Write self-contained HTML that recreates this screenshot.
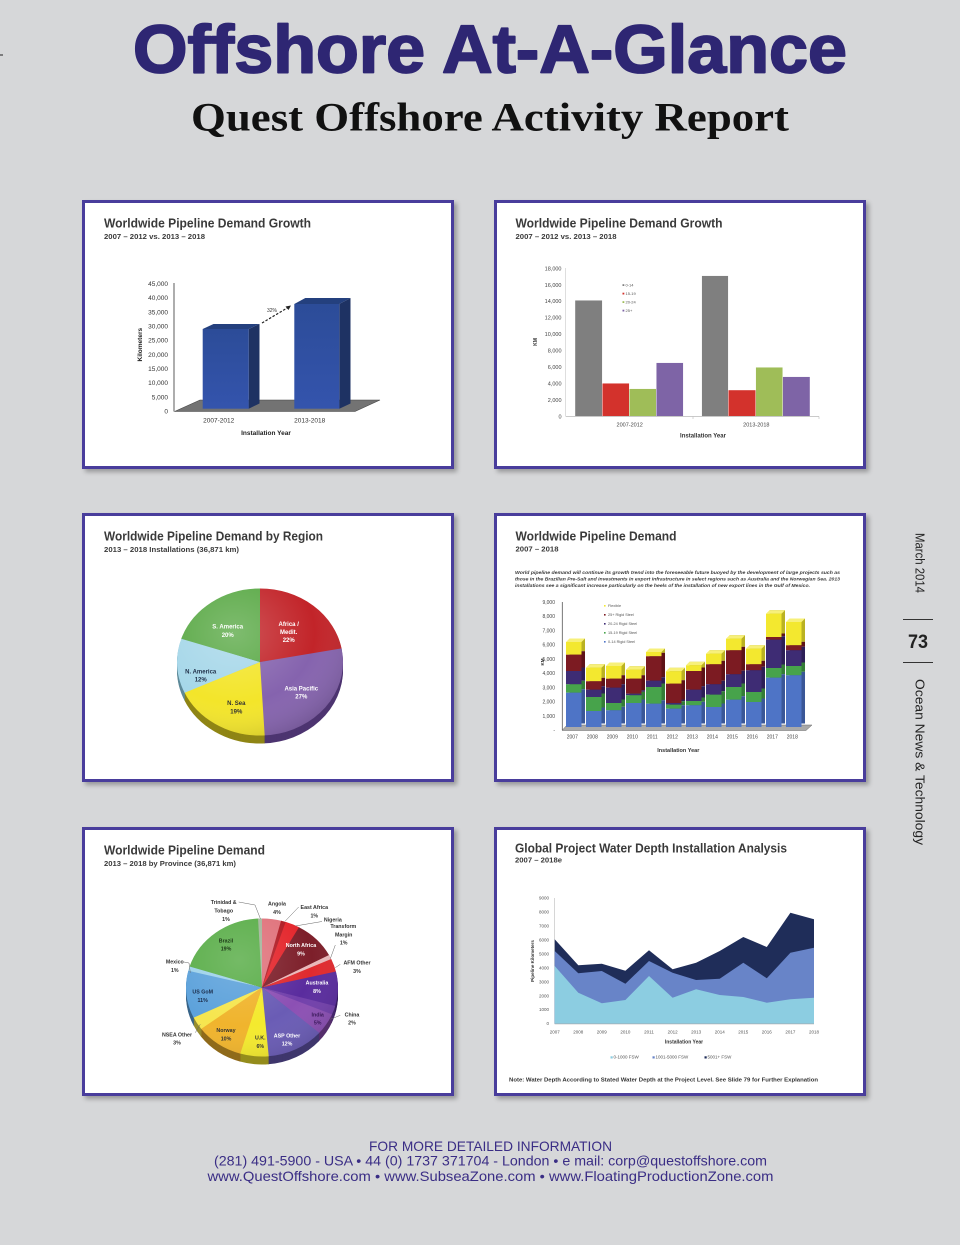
<!DOCTYPE html>
<html><head><meta charset="utf-8"><style>
html,body{margin:0;padding:0;width:960px;height:1245px;overflow:hidden;background:#d6d7d9}
svg{display:block}
text{font-family:"Liberation Sans",Arial,sans-serif}
</style></head><body>
<svg xmlns="http://www.w3.org/2000/svg" xmlns:xlink="http://www.w3.org/1999/xlink" width="960" height="1245" viewBox="0 0 960 1245">
<defs>
<filter id="sh" x="-5%" y="-5%" width="115%" height="115%"><feGaussianBlur in="SourceAlpha" stdDeviation="2.5"/><feOffset dx="3" dy="3"/><feComponentTransfer><feFuncA type="linear" slope="0.3"/></feComponentTransfer><feMerge><feMergeNode/><feMergeNode in="SourceGraphic"/></feMerge></filter>
<filter id="dk"><feColorMatrix type="matrix" values="0.55 0 0 0 0 0 0.55 0 0 0 0 0 0.55 0 0 0 0 0 1 0"/></filter>
<linearGradient id="bf" x1="0" y1="0" x2="0" y2="1"><stop offset="0" stop-color="#2c4c98"/><stop offset="1" stop-color="#3454ad"/></linearGradient>
<radialGradient id="shine" cx="0.35" cy="0.3" r="0.8"><stop offset="0" stop-color="#fff" stop-opacity="0.22"/><stop offset="0.6" stop-color="#fff" stop-opacity="0"/><stop offset="1" stop-color="#000" stop-opacity="0.18"/></radialGradient>

<g id="pie1d" transform="translate(260,662) scale(1.66,1.47) rotate(-90)" fill="none" stroke-width="50">
<circle r="25" stroke="#7a151b" stroke-dasharray="34.9 200" stroke-dashoffset="0"/>
<circle r="25" stroke="#4d3470" stroke-dasharray="42.7 200" stroke-dashoffset="-34.56"/>
<circle r="25" stroke="#8f8515" stroke-dasharray="30.1 200" stroke-dashoffset="-76.97"/>
<circle r="25" stroke="#5e8a99" stroke-dasharray="19.1 200" stroke-dashoffset="-106.81"/>
<circle r="25" stroke="#2f6a25" stroke-dasharray="31.42 200" stroke-dashoffset="-125.66"/>
</g>

<g id="pie2d" transform="translate(262,987.5) scale(1.52,1.38) rotate(-90)" fill="none" stroke-width="50">
<circle r="25" stroke="#8a4148" stroke-dasharray="6.6 200" stroke-dashoffset="0"/>
<circle r="25" stroke="#6a1015" stroke-dasharray="1.8 200" stroke-dashoffset="-6.35"/>
<circle r="25" stroke="#8a1519" stroke-dasharray="5 200" stroke-dashoffset="-7.93"/>
<circle r="25" stroke="#4a1218" stroke-dasharray="14.5 200" stroke-dashoffset="-12.69"/>
<circle r="25" stroke="#8a6a6b" stroke-dasharray="1.8 200" stroke-dashoffset="-26.97"/>
<circle r="25" stroke="#8a1a1c" stroke-dasharray="5 200" stroke-dashoffset="-28.56"/>
<circle r="25" stroke="#351a5e" stroke-dasharray="12.9 200" stroke-dashoffset="-33.32"/>
<circle r="25" stroke="#43246a" stroke-dasharray="3.4 200" stroke-dashoffset="-46.01"/>
<circle r="25" stroke="#552e6c" stroke-dasharray="8.2 200" stroke-dashoffset="-49.19"/>
<circle r="25" stroke="#3e366c" stroke-dasharray="19.3 200" stroke-dashoffset="-57.12"/>
<circle r="25" stroke="#948c1c" stroke-dasharray="9.8 200" stroke-dashoffset="-76.16"/>
<circle r="25" stroke="#8f6a1b" stroke-dasharray="16.1 200" stroke-dashoffset="-85.68"/>
<circle r="25" stroke="#968c2e" stroke-dasharray="5 200" stroke-dashoffset="-101.55"/>
<circle r="25" stroke="#386488" stroke-dasharray="17.7 200" stroke-dashoffset="-106.31"/>
<circle r="25" stroke="#5c8090" stroke-dasharray="1.8 200" stroke-dashoffset="-123.76"/>
<circle r="25" stroke="#366a2d" stroke-dasharray="30.4 200" stroke-dashoffset="-125.35"/>
<circle r="25" stroke="#65705f" stroke-dasharray="1.59 200" stroke-dashoffset="-155.49"/>
</g>

<g id="bars">
<g fill="#f3e82f">
<rect x="566" y="642" width="15.5" height="12.7"/><rect x="586" y="667.7" width="15.5" height="13.6"/><rect x="606" y="666" width="15.5" height="12.7"/><rect x="626" y="669.7" width="15.5" height="9"/><rect x="646" y="652" width="15.5" height="4.3"/><rect x="666" y="671.3" width="15.5" height="12.4"/><rect x="686" y="665.3" width="15.5" height="5.7"/><rect x="706" y="653.7" width="15.5" height="10.6"/><rect x="726" y="638.7" width="15.5" height="11.6"/><rect x="746" y="648.7" width="15.5" height="15.6"/><rect x="766" y="613.7" width="15.5" height="23.3"/><rect x="786" y="622" width="15.5" height="23.3"/>
</g>
<g fill="#7c1b22">
<rect x="566" y="654.7" width="15.5" height="16.3"/><rect x="586" y="681.3" width="15.5" height="8.4"/><rect x="606" y="678.7" width="15.5" height="9"/><rect x="626" y="678.7" width="15.5" height="15"/><rect x="646" y="656.3" width="15.5" height="24.4"/><rect x="666" y="683.7" width="15.5" height="19.3"/><rect x="686" y="671" width="15.5" height="18.7"/><rect x="706" y="664.3" width="15.5" height="20"/><rect x="726" y="650.3" width="15.5" height="24"/><rect x="746" y="664.3" width="15.5" height="6"/><rect x="766" y="637" width="15.5" height="2.7"/><rect x="786" y="645.3" width="15.5" height="5"/>
</g>
<g fill="#3e2c74">
<rect x="566" y="671" width="15.5" height="13.3"/><rect x="586" y="689.7" width="15.5" height="7.3"/><rect x="606" y="687.7" width="15.5" height="15.3"/><rect x="626" y="693.7" width="15.5" height="1.6"/><rect x="646" y="680.7" width="15.5" height="6.3"/><rect x="666" y="703" width="15.5" height="1.7"/><rect x="686" y="689.7" width="15.5" height="11.3"/><rect x="706" y="684.3" width="15.5" height="10.4"/><rect x="726" y="674.3" width="15.5" height="12.7"/><rect x="746" y="670.3" width="15.5" height="21.7"/><rect x="766" y="639.7" width="15.5" height="28.3"/><rect x="786" y="650.3" width="15.5" height="15.7"/>
</g>
<g fill="#47a34b">
<rect x="566" y="684.3" width="15.5" height="8.4"/><rect x="586" y="697" width="15.5" height="14"/><rect x="606" y="703" width="15.5" height="7.3"/><rect x="626" y="695.3" width="15.5" height="7.7"/><rect x="646" y="687" width="15.5" height="16.7"/><rect x="666" y="704.7" width="15.5" height="4"/><rect x="686" y="701" width="15.5" height="4.3"/><rect x="706" y="694.7" width="15.5" height="12.3"/><rect x="726" y="687" width="15.5" height="12.7"/><rect x="746" y="692" width="15.5" height="10"/><rect x="766" y="668" width="15.5" height="9.7"/><rect x="786" y="666" width="15.5" height="9.3"/>
</g>
<g fill="#4e74c6">
<rect x="566" y="692.7" width="15.5" height="34.3"/><rect x="586" y="711" width="15.5" height="16"/><rect x="606" y="710.3" width="15.5" height="16.7"/><rect x="626" y="703" width="15.5" height="24"/><rect x="646" y="703.7" width="15.5" height="23.3"/><rect x="666" y="708.7" width="15.5" height="18.3"/><rect x="686" y="705.3" width="15.5" height="21.7"/><rect x="706" y="707" width="15.5" height="20"/><rect x="726" y="699.7" width="15.5" height="27.3"/><rect x="746" y="702" width="15.5" height="25"/><rect x="766" y="677.7" width="15.5" height="49.3"/><rect x="786" y="675.3" width="15.5" height="51.7"/>
</g>
</g>
</defs>

<!-- header -->
<line x1="0" y1="55" x2="3" y2="55" stroke="#222" stroke-width="1"/>
<text x="133" y="72.5" font-size="68" font-weight="bold" fill="#2e2673" stroke="#2e2673" stroke-width="1.8" stroke-linejoin="round" textLength="714" lengthAdjust="spacingAndGlyphs">Offshore At-A-Glance</text>
<text x="191" y="130.5" font-size="40" font-weight="bold" fill="#111" textLength="598" lengthAdjust="spacingAndGlyphs" style="font-family:'Liberation Serif',serif">Quest Offshore Activity Report</text>

<!-- panels -->
<g filter="url(#sh)" fill="#fff" stroke="#4a3c9c" stroke-width="3">
<rect x="83.5" y="201.5" width="369" height="266"/>
<rect x="495.5" y="201.5" width="369" height="266"/>
<rect x="83.5" y="514.5" width="369" height="266"/>
<rect x="495.5" y="514.5" width="369" height="266"/>
<rect x="83.5" y="828.5" width="369" height="266"/>
<rect x="495.5" y="828.5" width="369" height="266"/>
</g>

<!-- titles -->
<g font-weight="bold" fill="#3a3a3a">
<text x="104" y="227.5" font-size="12.5" textLength="207" lengthAdjust="spacingAndGlyphs">Worldwide Pipeline Demand Growth</text>
<text x="104" y="239" font-size="7.5" textLength="101" lengthAdjust="spacingAndGlyphs">2007 – 2012 vs. 2013 – 2018</text>
<text x="515.5" y="227.5" font-size="12.5" textLength="207" lengthAdjust="spacingAndGlyphs">Worldwide Pipeline Demand Growth</text>
<text x="515.5" y="239" font-size="7.5" textLength="101" lengthAdjust="spacingAndGlyphs">2007 – 2012 vs. 2013 – 2018</text>
<text x="104" y="540.5" font-size="12.5" textLength="219" lengthAdjust="spacingAndGlyphs">Worldwide Pipeline Demand by Region</text>
<text x="104" y="552" font-size="7.5" textLength="135" lengthAdjust="spacingAndGlyphs">2013 – 2018  Installations (36,871 km)</text>
<text x="515.5" y="540.5" font-size="12.5" textLength="161" lengthAdjust="spacingAndGlyphs">Worldwide Pipeline Demand</text>
<text x="515.5" y="551.5" font-size="7.5" textLength="43" lengthAdjust="spacingAndGlyphs">2007 – 2018</text>
<text x="104" y="854.5" font-size="12.5" textLength="161" lengthAdjust="spacingAndGlyphs">Worldwide Pipeline Demand</text>
<text x="104" y="866" font-size="7.5" textLength="132" lengthAdjust="spacingAndGlyphs">2013 – 2018 by Province (36,871 km)</text>
<text x="515" y="852.5" font-size="12.5" textLength="272" lengthAdjust="spacingAndGlyphs">Global Project Water Depth Installation Analysis</text>
<text x="515" y="862.5" font-size="7.5" textLength="47" lengthAdjust="spacingAndGlyphs">2007 – 2018e</text>
</g>

<!-- PANEL 1 -->
<g font-size="6.5" fill="#333" text-anchor="end">
<text x="168" y="413.6">0</text><text x="168" y="399.4">5,000</text><text x="168" y="385.2">10,000</text><text x="168" y="371.1">15,000</text><text x="168" y="356.9">20,000</text><text x="168" y="342.7">25,000</text><text x="168" y="328.5">30,000</text><text x="168" y="314.3">35,000</text><text x="168" y="300.2">40,000</text><text x="168" y="286">45,000</text>
</g>
<line x1="174" y1="283" x2="174" y2="411.5" stroke="#333" stroke-width="0.8"/>
<polygon points="174.5,411.5 355,411.5 380,400 200,400" fill="#737373" stroke="#444" stroke-width="0.6"/>
<polygon points="202.7,329 213.5,324 259.5,324 248.7,329" fill="#24407e"/>
<polygon points="248.7,329 259.5,324 259.5,403.5 248.7,408.7" fill="#1e3263"/>
<rect x="202.7" y="329" width="46" height="79.7" fill="url(#bf)"/>
<polygon points="294.3,304 305.3,298 350.5,298 339.3,304" fill="#24407e"/>
<polygon points="339.3,304 350.5,298 350.5,403.5 339.3,408.7" fill="#1e3263"/>
<rect x="294.3" y="304" width="45" height="104.7" fill="url(#bf)"/>
<line x1="262" y1="323" x2="288" y2="307.5" stroke="#222" stroke-width="1.2" stroke-dasharray="2.5,1.6"/>
<polygon points="291,305.5 285.5,306.5 288.5,310" fill="#222"/>
<text x="272" y="312" font-size="5" fill="#333" text-anchor="middle">32%</text>
<g font-size="6.5" fill="#333" text-anchor="middle">
<text x="218.7" y="422.5">2007-2012</text><text x="309.7" y="422.5">2013-2018</text>
<text x="266" y="435" font-weight="bold" fill="#222">Installation Year</text>
<text transform="translate(141.8,344.7) rotate(-90)" font-weight="bold" fill="#222">Kilometers</text>
</g>

<!-- PANEL 2 -->
<g font-size="5.5" fill="#444" text-anchor="end">
<text x="561.5" y="418.3">0</text><text x="561.5" y="401.9">2,000</text><text x="561.5" y="385.4">4,000</text><text x="561.5" y="369">6,000</text><text x="561.5" y="352.5">8,000</text><text x="561.5" y="336.1">10,000</text><text x="561.5" y="319.7">12,000</text><text x="561.5" y="303.2">14,000</text><text x="561.5" y="286.8">16,000</text><text x="561.5" y="270.3">18,000</text>
</g>
<line x1="565.7" y1="268" x2="565.7" y2="416.3" stroke="#c8c8c8" stroke-width="0.6"/>
<g stroke="#fff" stroke-width="0.4">
<rect x="575" y="300.3" width="27.3" height="116" fill="#7f7f7f"/>
<rect x="602.3" y="383.3" width="27" height="33" fill="#d3322c"/>
<rect x="629.3" y="388.7" width="27" height="27.6" fill="#9fbd58"/>
<rect x="656.3" y="362.7" width="27" height="53.6" fill="#7e64a6"/>
<rect x="701.7" y="275.7" width="26.6" height="140.6" fill="#7f7f7f"/>
<rect x="728.3" y="390" width="27.4" height="26.3" fill="#d3322c"/>
<rect x="755.7" y="367.3" width="27" height="49" fill="#9fbd58"/>
<rect x="782.7" y="376.7" width="27.3" height="39.6" fill="#7e64a6"/>
</g>
<line x1="565.7" y1="416.5" x2="819" y2="416.5" stroke="#b8b8b8" stroke-width="0.8"/>
<line x1="693" y1="416.5" x2="693" y2="419" stroke="#b8b8b8" stroke-width="0.6"/>
<line x1="819" y1="416.5" x2="819" y2="419" stroke="#b8b8b8" stroke-width="0.6"/>
<rect x="622.5" y="284.2" width="1.8" height="1.8" fill="#7f7f7f"/>
<rect x="622.5" y="292.7" width="1.8" height="1.8" fill="#d3322c"/>
<rect x="622.5" y="301.2" width="1.8" height="1.8" fill="#9fbd58"/>
<rect x="622.5" y="309.7" width="1.8" height="1.8" fill="#7e64a6"/>
<g font-size="4" fill="#555">
<text x="625.5" y="286.6">0-14</text><text x="625.5" y="295.1">15-19</text><text x="625.5" y="303.6">20-24</text><text x="625.5" y="312.1">25+</text>
</g>
<g font-size="5.5" fill="#444" text-anchor="middle">
<text x="629.7" y="426.5">2007-2012</text><text x="756.3" y="426.5">2013-2018</text>
<text x="703" y="437.5" font-weight="bold" font-size="6" fill="#333">Installation Year</text>
<text transform="translate(537,342) rotate(-90)" font-weight="bold" font-size="5" fill="#333">KM</text>
</g>

<!-- PANEL 3 pie -->
<use xlink:href="#pie1d" transform="translate(0,8)"/>
<use xlink:href="#pie1d" transform="translate(0,7)"/>
<use xlink:href="#pie1d" transform="translate(0,6)"/>
<use xlink:href="#pie1d" transform="translate(0,5)"/>
<use xlink:href="#pie1d" transform="translate(0,4)"/>
<use xlink:href="#pie1d" transform="translate(0,3)"/>
<use xlink:href="#pie1d" transform="translate(0,2)"/>
<use xlink:href="#pie1d" transform="translate(0,1)"/>
<g transform="translate(260,662) scale(1.66,1.47) rotate(-90)" fill="none" stroke-width="50">
<circle r="25" stroke="#c22429" stroke-dasharray="34.9 200" stroke-dashoffset="0"/>
<circle r="25" stroke="#8563ae" stroke-dasharray="42.7 200" stroke-dashoffset="-34.56"/>
<circle r="25" stroke="#f3e52a" stroke-dasharray="30.1 200" stroke-dashoffset="-76.97"/>
<circle r="25" stroke="#a6d7e9" stroke-dasharray="19.1 200" stroke-dashoffset="-106.81"/>
<circle r="25" stroke="#5aa946" stroke-dasharray="31.42 200" stroke-dashoffset="-125.66"/>
</g>
<ellipse cx="260" cy="662" rx="83" ry="73.5" fill="url(#shine)"/>
<g font-size="6" font-weight="bold" text-anchor="middle">
<g fill="#fff">
<text x="288.7" y="626">Africa /</text><text x="288.7" y="634">Medit.</text><text x="288.7" y="642">22%</text>
<text x="227.7" y="628.5">S. America</text><text x="227.7" y="637">20%</text>
<text x="301.3" y="690.5">Asia Pacific</text><text x="301.3" y="698.5">27%</text>
</g>
<g fill="#1f2f48">
<text x="200.7" y="673.5">N. America</text><text x="200.7" y="681.5">12%</text>
</g>
<g fill="#333">
<text x="236.3" y="705">N. Sea</text><text x="236.3" y="713.5">19%</text>
</g>
</g>

<!-- PANEL 4 -->
<g font-size="4.6" font-weight="bold" font-style="italic" fill="#3a3a3a">
<text x="515" y="574" textLength="325" lengthAdjust="spacingAndGlyphs">World pipeline demand will continue its growth trend into the foreseeable future buoyed by the development of large projects such as</text>
<text x="515" y="580.3" textLength="325" lengthAdjust="spacingAndGlyphs">those in the Brazilian Pre-Salt and investments in export infrastructure in select regions such as Australia and the Norwegian Sea. 2013</text>
<text x="515" y="587" textLength="295" lengthAdjust="spacingAndGlyphs">installations see a significant increase particularly on the heels of the installation of new export lines in the Gulf of Mexico.</text>
</g>
<g font-size="5" fill="#444" text-anchor="end">
<text x="555" y="732">-</text><text x="555" y="717.8">1,000</text><text x="555" y="703.6">2,000</text><text x="555" y="689.3">3,000</text><text x="555" y="675.1">4,000</text><text x="555" y="660.9">5,000</text><text x="555" y="646.7">6,000</text><text x="555" y="632.5">7,000</text><text x="555" y="618.2">8,000</text><text x="555" y="604">9,000</text>
</g>
<line x1="562.3" y1="602" x2="562.3" y2="730" stroke="#555" stroke-width="0.8"/>
<polygon points="562,730.5 806,730.5 812,725 567,725" fill="#a9a9a9" stroke="#666" stroke-width="0.5"/>
<use xlink:href="#bars" transform="translate(3.5,-3.5)" filter="url(#dk)"/>
<g fill="#f7f07a">
<polygon points="566,642 569.5,638.5 585,638.5 581.5,642"/><polygon points="586,667.7 589.5,664.2 605,664.2 601.5,667.7"/><polygon points="606,666 609.5,662.5 625,662.5 621.5,666"/><polygon points="626,669.7 629.5,666.2 645,666.2 641.5,669.7"/><polygon points="646,652 649.5,648.5 665,648.5 661.5,652"/><polygon points="666,671.3 669.5,667.8 685,667.8 681.5,671.3"/><polygon points="686,665.3 689.5,661.8 705,661.8 701.5,665.3"/><polygon points="706,653.7 709.5,650.2 725,650.2 721.5,653.7"/><polygon points="726,638.7 729.5,635.2 745,635.2 741.5,638.7"/><polygon points="746,648.7 749.5,645.2 765,645.2 761.5,648.7"/><polygon points="766,613.7 769.5,610.2 785,610.2 781.5,613.7"/><polygon points="786,622 789.5,618.5 805,618.5 801.5,622"/>
</g>
<use xlink:href="#bars"/>
<g font-size="3.8" fill="#555">
<rect x="604" y="605" width="1.6" height="1.6" fill="#f3e82f"/><text x="608" y="607">Flexible</text>
<rect x="604" y="614" width="1.6" height="1.6" fill="#7c1b22"/><text x="608" y="616">25+ Rigid Steel</text>
<rect x="604" y="623" width="1.6" height="1.6" fill="#3e2c74"/><text x="608" y="625">20-24 Rigid Steel</text>
<rect x="604" y="632" width="1.6" height="1.6" fill="#47a34b"/><text x="608" y="634">15-19 Rigid Steel</text>
<rect x="604" y="641" width="1.6" height="1.6" fill="#4e74c6"/><text x="608" y="643">0-14 Rigid Steel</text>
</g>
<g font-size="5" fill="#444" text-anchor="middle">
<text x="572.3" y="738.5">2007</text><text x="592.3" y="738.5">2008</text><text x="612.3" y="738.5">2009</text><text x="632.3" y="738.5">2010</text><text x="652.3" y="738.5">2011</text><text x="672.3" y="738.5">2012</text><text x="692.3" y="738.5">2013</text><text x="712.3" y="738.5">2014</text><text x="732.3" y="738.5">2015</text><text x="752.3" y="738.5">2016</text><text x="772.3" y="738.5">2017</text><text x="792.3" y="738.5">2018</text>
<text x="678.3" y="752" font-weight="bold" font-size="5.5" fill="#333">Installation Year</text>
<text transform="translate(544.2,662) rotate(-90)" font-weight="bold" font-size="4.5" fill="#333">KM</text>
</g>

<!-- PANEL 5 pie -->
<use xlink:href="#pie2d" transform="translate(0,8)"/>
<use xlink:href="#pie2d" transform="translate(0,7)"/>
<use xlink:href="#pie2d" transform="translate(0,6)"/>
<use xlink:href="#pie2d" transform="translate(0,5)"/>
<use xlink:href="#pie2d" transform="translate(0,4)"/>
<use xlink:href="#pie2d" transform="translate(0,3)"/>
<use xlink:href="#pie2d" transform="translate(0,2)"/>
<use xlink:href="#pie2d" transform="translate(0,1)"/>
<g transform="translate(262,987.5) scale(1.52,1.38) rotate(-90)" fill="none" stroke-width="50">
<circle r="25" stroke="#e0737c" stroke-dasharray="6.6 200" stroke-dashoffset="0"/>
<circle r="25" stroke="#b01c24" stroke-dasharray="1.8 200" stroke-dashoffset="-6.35"/>
<circle r="25" stroke="#e4262c" stroke-dasharray="5 200" stroke-dashoffset="-7.93"/>
<circle r="25" stroke="#7d1f2a" stroke-dasharray="14.5 200" stroke-dashoffset="-12.69"/>
<circle r="25" stroke="#e9b8ba" stroke-dasharray="1.8 200" stroke-dashoffset="-26.97"/>
<circle r="25" stroke="#e02a2e" stroke-dasharray="5 200" stroke-dashoffset="-28.56"/>
<circle r="25" stroke="#5a2c9e" stroke-dasharray="12.9 200" stroke-dashoffset="-33.32"/>
<circle r="25" stroke="#7240ab" stroke-dasharray="3.4 200" stroke-dashoffset="-46.01"/>
<circle r="25" stroke="#8c50b4" stroke-dasharray="8.2 200" stroke-dashoffset="-49.19"/>
<circle r="25" stroke="#6a5cb5" stroke-dasharray="19.3 200" stroke-dashoffset="-57.12"/>
<circle r="25" stroke="#f4ea2e" stroke-dasharray="9.8 200" stroke-dashoffset="-76.16"/>
<circle r="25" stroke="#f0b42d" stroke-dasharray="16.1 200" stroke-dashoffset="-85.68"/>
<circle r="25" stroke="#f6e64e" stroke-dasharray="5 200" stroke-dashoffset="-101.55"/>
<circle r="25" stroke="#5da2db" stroke-dasharray="17.7 200" stroke-dashoffset="-106.31"/>
<circle r="25" stroke="#9ed2ea" stroke-dasharray="1.8 200" stroke-dashoffset="-123.76"/>
<circle r="25" stroke="#5bae4a" stroke-dasharray="30.4 200" stroke-dashoffset="-125.35"/>
<circle r="25" stroke="#a4b69c" stroke-dasharray="1.59 200" stroke-dashoffset="-155.49"/>
</g>
<ellipse cx="262" cy="987.5" rx="76" ry="69" fill="url(#shine)" opacity="0.7"/>
<g stroke="#666" stroke-width="0.5" fill="none">
<polyline points="238.7,902 255,905 260.5,919"/>
<line x1="298.7" y1="907" x2="285.3" y2="921"/>
<line x1="322" y1="921.5" x2="295.3" y2="926"/>
<line x1="335.3" y1="945" x2="330.3" y2="958.7"/>
<line x1="340.3" y1="964.3" x2="335.3" y2="967.7"/>
<line x1="340.3" y1="1015.3" x2="330.3" y2="1019.3"/>
<line x1="195.3" y1="1032.7" x2="200.3" y2="1024.3"/>
<polyline points="184,962 189,963 190.3,972.7"/>
</g>
<g font-size="5.3" font-weight="bold" text-anchor="middle">
<g fill="#333">
<text x="223.7" y="904">Trinidad &amp;</text><text x="223.7" y="912.3">Tobago</text><text x="226" y="921">1%</text>
<text x="277" y="905.5">Angola</text><text x="277" y="914">4%</text>
<text x="314.3" y="909">East Africa</text><text x="314.3" y="917.3">1%</text>
<text x="332.8" y="921.3">Nigeria</text>
<text x="343.3" y="928">Transform</text><text x="343.7" y="936.3">Margin</text><text x="343.7" y="944.7">1%</text>
<text x="357" y="964.7">AFM Other</text><text x="357" y="973">3%</text>
<text x="352" y="1016.3">China</text><text x="352" y="1024.7">2%</text>
<text x="177" y="1036.3">NSEA Other</text><text x="177" y="1044.7">3%</text>
<text x="174.8" y="963.7">Mexico</text><text x="174.8" y="972">1%</text>
<text x="226" y="942.3" fill="#1d3a18">Brazil</text><text x="226" y="950.7" fill="#1d3a18">19%</text>
<text x="202.7" y="993.7" fill="#1a2a48">US GoM</text><text x="202.7" y="1002" fill="#1a2a48">11%</text>
<text x="317.7" y="1016.3" fill="#3a1a5a">India</text><text x="317.7" y="1024.7" fill="#3a1a5a">5%</text>
<text x="226" y="1032">Norway</text><text x="226" y="1040.3">10%</text>
<text x="260.3" y="1039.7">U.K.</text><text x="260.3" y="1048">6%</text>
</g>
<g fill="#fff">
<text x="301" y="947">North Africa</text><text x="301" y="955.3">9%</text>
<text x="317" y="984.7">Australia</text><text x="317" y="993">8%</text>
<text x="287" y="1037.3">ASP Other</text><text x="287" y="1045.7">12%</text>
</g>
</g>

<!-- PANEL 6 area -->
<g font-size="4.5" fill="#555" text-anchor="end">
<text x="549" y="1025.2">0</text><text x="549" y="1011.2">1000</text><text x="549" y="997.3">2000</text><text x="549" y="983.3">3000</text><text x="549" y="969.3">4000</text><text x="549" y="955.4">5000</text><text x="549" y="941.4">6000</text><text x="549" y="927.4">7000</text><text x="549" y="913.4">8000</text><text x="549" y="899.5">9000</text>
</g>
<line x1="554.7" y1="898" x2="554.7" y2="1023.7" stroke="#bbb" stroke-width="0.6"/>
<polygon fill="#1f2d59" points="554.7,1023.7 554.7,939.3 578.3,965.3 601.8,963.7 625.4,970.7 649,950.3 672.6,969.3 696.1,962.7 719.7,951 743.3,937 766.8,947 790.4,912.7 814,919.3 814,1023.7"/>
<polygon fill="#6884c8" points="554.7,1023.7 554.7,951 578.3,973.3 601.8,971 625.4,983.7 649,961 672.6,972.7 696.1,980 719.7,978.7 743.3,962.7 766.8,978.3 790.4,952.7 814,947.7 814,1023.7"/>
<polygon fill="#8ccde1" points="554.7,1023.7 554.7,966 578.3,992.7 601.8,1003.3 625.4,1000 649,976 672.6,997.7 696.1,989.3 719.7,995 743.3,997 766.8,1002.7 790.4,999.3 814,997.7 814,1023.7"/>
<line x1="554.7" y1="1023.9" x2="814" y2="1023.9" stroke="#aaa" stroke-width="0.6"/>
<g font-size="4.5" fill="#555" text-anchor="middle">
<text x="554.7" y="1033.5">2007</text><text x="578.3" y="1033.5">2008</text><text x="601.8" y="1033.5">2009</text><text x="625.4" y="1033.5">2010</text><text x="649" y="1033.5">2011</text><text x="672.6" y="1033.5">2012</text><text x="696.1" y="1033.5">2013</text><text x="719.7" y="1033.5">2014</text><text x="743.3" y="1033.5">2015</text><text x="766.8" y="1033.5">2016</text><text x="790.4" y="1033.5">2017</text><text x="814" y="1033.5">2018</text>
<text x="684" y="1043.5" font-weight="bold" font-size="5" fill="#333">Installation Year</text>
<text transform="translate(534,961) rotate(-90)" font-weight="bold" font-size="4.5" fill="#333">Pipeline Kilometers</text>
</g>
<g font-size="4.5" fill="#555">
<rect x="610.5" y="1056.3" width="2.2" height="2.2" fill="#8ccde1"/><text x="613.5" y="1058.7">0-1000 FSW</text>
<rect x="652.5" y="1056.3" width="2.2" height="2.2" fill="#6884c8"/><text x="655.5" y="1058.7">1001-5000 FSW</text>
<rect x="704.5" y="1056.3" width="2.2" height="2.2" fill="#1f2d59"/><text x="707.5" y="1058.7">5001+ FSW</text>
</g>
<text x="509" y="1081.5" font-size="5.2" font-weight="bold" fill="#333" textLength="309" lengthAdjust="spacingAndGlyphs">Note: Water Depth According to Stated Water Depth at the Project Level. See Slide 79 for Further Explanation</text>

<!-- right side -->
<g fill="#222">
<text transform="translate(915.5,533) rotate(90)" font-size="12.5" textLength="60" lengthAdjust="spacingAndGlyphs">March 2014</text>
<line x1="903" y1="619.5" x2="933" y2="619.5" stroke="#333" stroke-width="1"/>
<text x="908" y="648" font-size="19" font-weight="bold" textLength="20" lengthAdjust="spacingAndGlyphs">73</text>
<line x1="903" y1="662.5" x2="933" y2="662.5" stroke="#333" stroke-width="1"/>
<text transform="translate(915.5,679) rotate(90)" font-size="12.5" textLength="166" lengthAdjust="spacingAndGlyphs">Ocean News &amp; Technology</text>
</g>

<!-- footer -->
<g fill="#3a2d85" font-size="14">
<text x="369" y="1151" textLength="243" lengthAdjust="spacingAndGlyphs">FOR MORE DETAILED INFORMATION</text>
<text x="214" y="1165.7" textLength="553" lengthAdjust="spacingAndGlyphs">(281) 491-5900 - USA  •  44 (0) 1737 371704 - London  •  e mail: corp@questoffshore.com</text>
<text x="207.5" y="1181" textLength="566" lengthAdjust="spacingAndGlyphs">www.QuestOffshore.com  •  www.SubseaZone.com  •  www.FloatingProductionZone.com</text>
</g>
</svg>
</body></html>
